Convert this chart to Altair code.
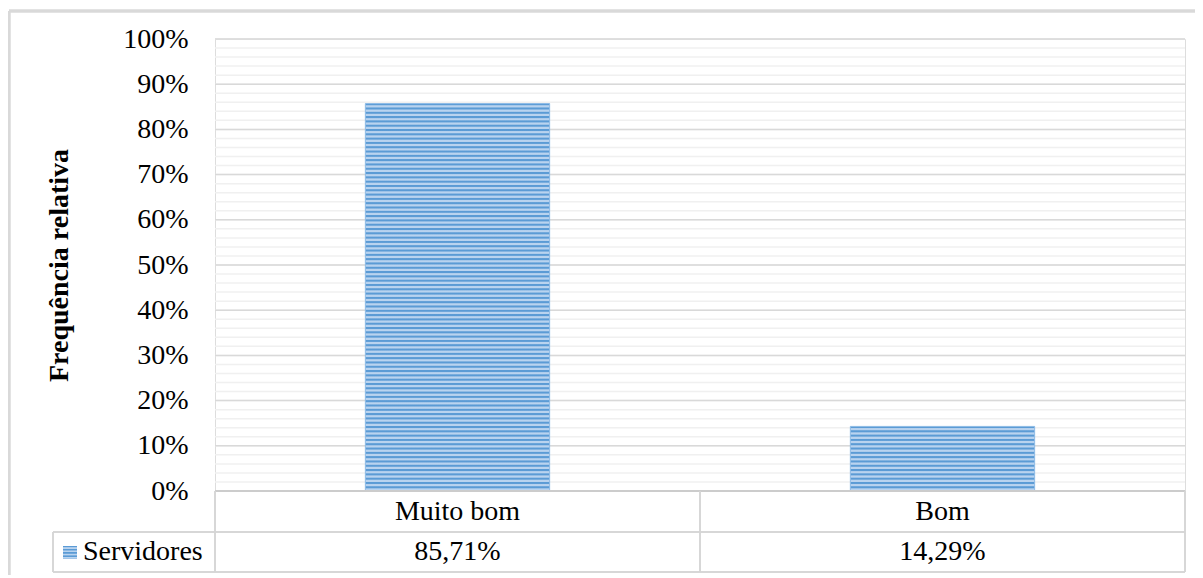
import altair as alt
import pandas as pd

# ---- data ----
categories = ["Muito bom", "Bom"]
values = [0.8571, 0.1429]
value_labels = ["85,71%", "14,29%"]
series_name = "Servidores"
y_title = "Frequência relativa"
major_ticks = [0.0, 0.1, 0.2, 0.3, 0.4, 0.5, 0.6, 0.7, 0.8, 0.9, 1.0]
minor_ticks = [round(i * 0.02, 2) for i in range(51)]

FONT = "Liberation Serif"
FS = 28
W, H = 970, 452
GRID_MAJOR = "#d9d9d9"
GRID_MINOR = "#f0f0f0"
LINE = "#d4d4d4"
DARK = "#5b9bd5"
LIGHT = "#b9d3ef"

df = pd.DataFrame({"cat": categories, "val": values, "label": value_labels})
major_df = pd.DataFrame({"v": major_ticks})
minor_df = pd.DataFrame({"v": minor_ticks})

xscale = alt.Scale(domain=categories, paddingInner=0.62, paddingOuter=0.31)
yscale = alt.Scale(domain=[0, 1], nice=False)


def stripes(n):
    stops = []
    for i in range(n):
        stops.append(alt.GradientStop(color=DARK, offset=i / n))
        stops.append(alt.GradientStop(color=DARK, offset=(i + 0.25) / n))
        stops.append(alt.GradientStop(color=LIGHT, offset=(i + 0.5) / n))
        stops.append(alt.GradientStop(color=LIGHT, offset=(i + 0.8) / n))
    stops.append(alt.GradientStop(color=DARK, offset=1.0))
    return alt.LinearGradient(gradient="linear", stops=stops, x1=0, x2=0, y1=0, y2=1)


yaxis = alt.Axis(
    values=major_ticks, format=".0%", grid=False, domain=False, ticks=False,
    labelFont=FONT, labelFontSize=FS, labelColor="#000000", labelPadding=27,
    title=y_title, titleFont=FONT, titleFontSize=FS, titleFontWeight="bold",
    titleColor="#000000", titleX=-156, titleY=H / 2, titleAngle=-90,
    titleAlign="center", titleBaseline="middle",
)

minor = alt.Chart(minor_df).mark_rule(color=GRID_MINOR, strokeWidth=1.5).encode(
    y=alt.Y("v:Q", scale=yscale, axis=yaxis)
)
major = alt.Chart(major_df).mark_rule(color=GRID_MAJOR, strokeWidth=1.5).encode(
    y=alt.Y("v:Q", scale=yscale, axis=yaxis)
)

bar_layers = []
for c, v in zip(categories, values):
    n = max(2, round(v * H / 4.3))
    bar_layers.append(
        alt.Chart(df).transform_filter(alt.datum.cat == c)
        .mark_bar(fill=stripes(n), stroke="#8dbbe6", strokeWidth=1)
        .encode(
            x=alt.X("cat:N", scale=xscale, axis=None, sort=categories),
            y=alt.Y("val:Q", scale=yscale, axis=yaxis),
        )
    )

base = alt.Chart(df)


def rule(x, x2, y, y2, color=LINE, width=1.5):
    return base.mark_rule(color=color, strokeWidth=width).encode(
        x=alt.value(x), x2=alt.value(x2), y=alt.value(y), y2=alt.value(y2)
    )


LEG_X = -162
table = [
    rule(0, W, H, H, color="#cccccc", width=2),
    rule(LEG_X, W, 493, 493),
    rule(LEG_X, W, 533, 533),
    rule(0, 0, H, 533),
    rule(W / 2, W / 2, H, 533),
    rule(W, W, H, 533),
    rule(LEG_X, LEG_X, 493, 533),
]

frame = [
    rule(-206, 990, -28, -28, color="#d9d9d9", width=3),
    rule(-206, -206, -28, 600, color="#d9d9d9", width=3),
]

cat_text = base.mark_text(font=FONT, fontSize=FS, color="#000000", baseline="middle").encode(
    x=alt.X("cat:N", scale=xscale, axis=None, sort=categories),
    y=alt.value(473),
    text="cat:N",
)
val_text = base.mark_text(font=FONT, fontSize=FS, color="#000000", baseline="middle").encode(
    x=alt.X("cat:N", scale=xscale, axis=None, sort=categories),
    y=alt.value(513),
    text="label:N",
)
legend_text = base.transform_filter(alt.datum.cat == categories[0]).mark_text(
    font=FONT, fontSize=FS, color="#000000", align="left", baseline="middle"
).encode(x=alt.value(-132), y=alt.value(513), text=alt.value(series_name))
legend_swatch = base.transform_filter(alt.datum.cat == categories[0]).mark_rect(
    fill=stripes(4)
).encode(x=alt.value(-152), x2=alt.value(-138), y=alt.value(507), y2=alt.value(520))

chart = alt.layer(
    minor, major, *bar_layers, *table, *frame, cat_text, val_text, legend_text, legend_swatch
).properties(
    width=W, height=H,
    autosize=alt.AutoSizeParams(type="none"),
    padding={"left": 207, "top": 31, "right": 10, "bottom": 84},
).configure_view(stroke=None).configure(background="white")

chart.save("out.html", embed_options={"renderer": "svg", "actions": False})
